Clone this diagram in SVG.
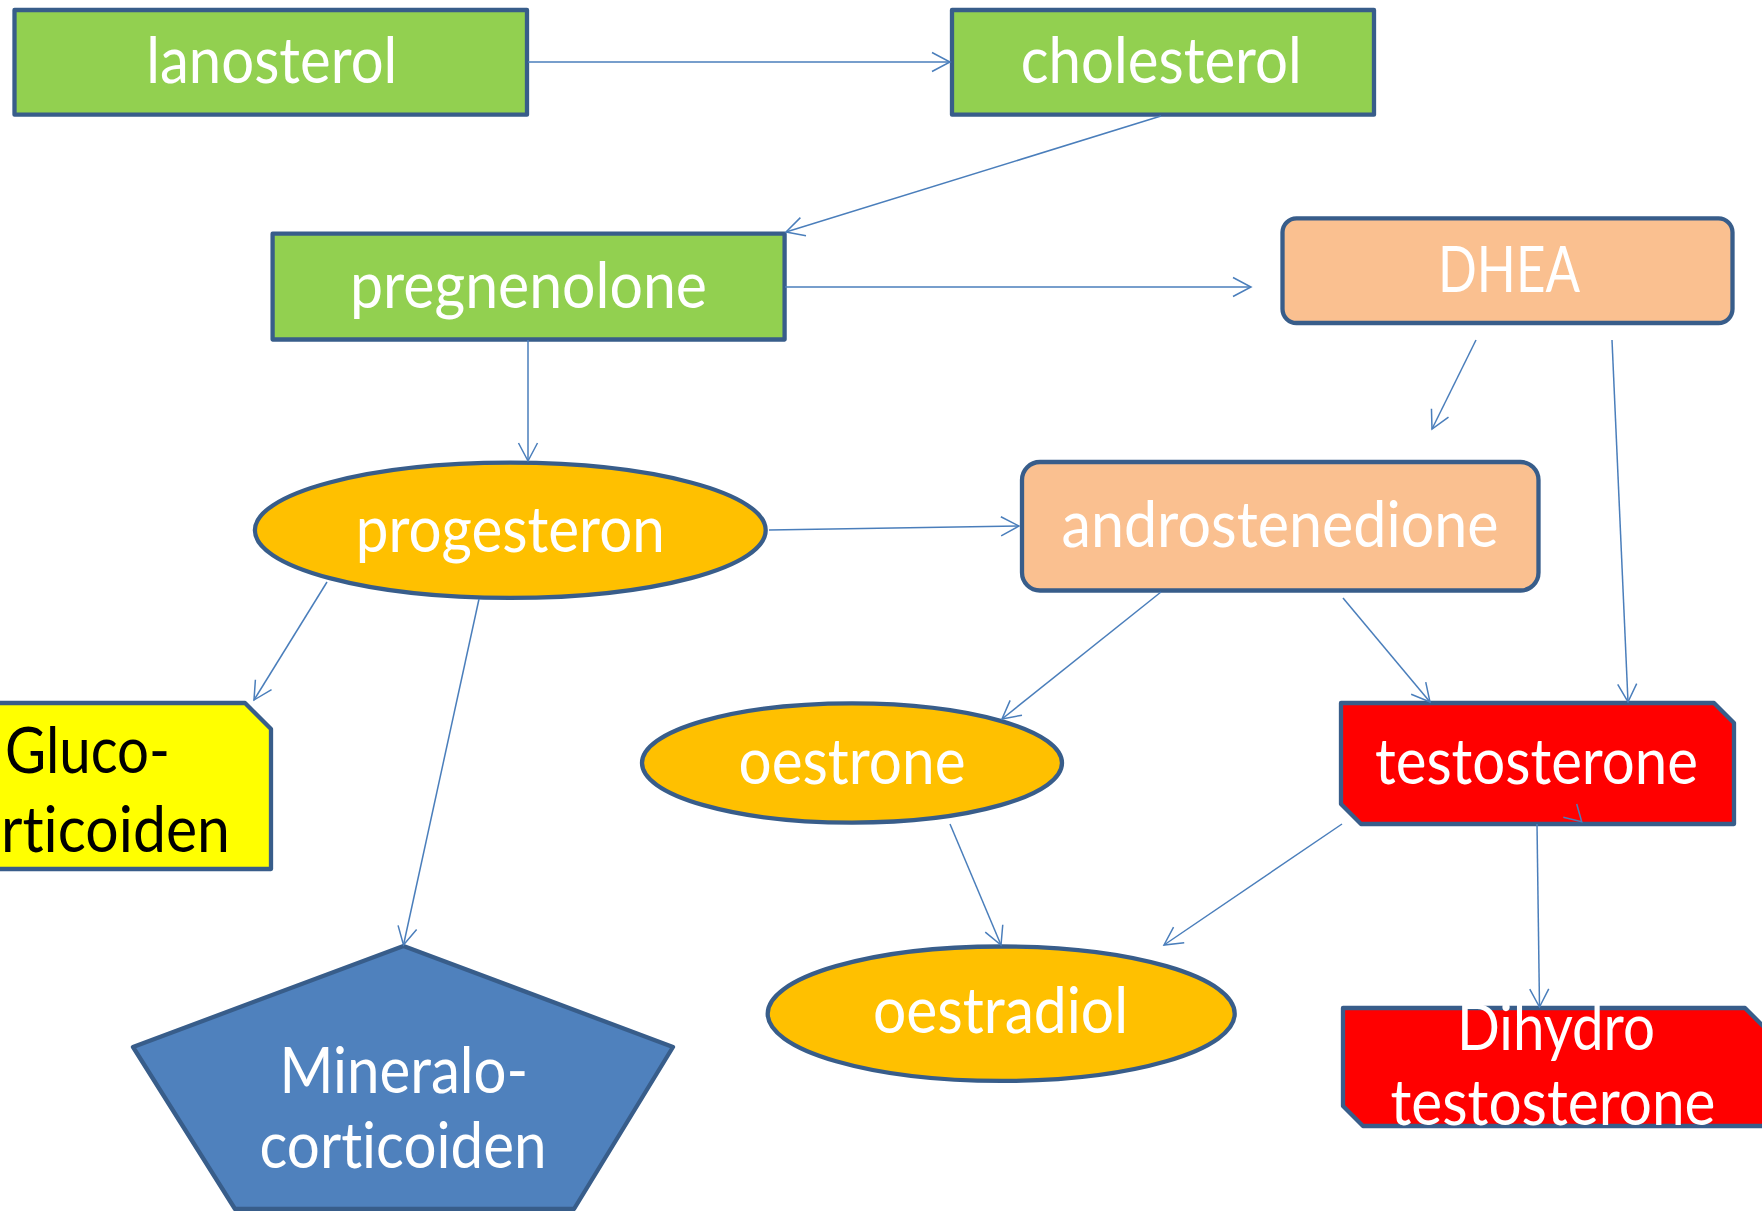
<svg xmlns="http://www.w3.org/2000/svg" width="1762" height="1211" viewBox="0 0 1762 1211">
<style>
.n{stroke:#385D8A;stroke-width:4.3;stroke-linejoin:round}
.green{fill:#92D050}
.peach{fill:#FAC090}
.orange{fill:#FFC000}
.red{fill:#FF0000}
.yellow{fill:#FFFF00}
.blue{fill:#4F81BD}
.t{font-family:Lato,"Open Sans","Liberation Sans",sans-serif;font-size:64px;fill:#FFFFFF;text-anchor:middle;font-variant-ligatures:none;font-feature-settings:"liga" 0}
.k{fill:#000000;text-anchor:start}
.c{fill:none;stroke:#4A7EBB;stroke-width:1.5;marker-end:url(#arr)}
</style>
<defs>
<marker id="arr" viewBox="-2 -12 24 24" refX="18" refY="0" markerWidth="24" markerHeight="24" markerUnits="userSpaceOnUse" orient="auto">
<path d="M0,-9.5 L18,0 L0,9.5" fill="none" stroke="#4A7EBB" stroke-width="1.5"/>
</marker>
</defs>
<rect width="1762" height="1211" fill="#FFFFFF"/>
<g id="lanosterol"><rect class="n green" x="14.5" y="10" width="512.5" height="104.7"/><text class="t" x="271.8" y="83" textLength="251" lengthAdjust="spacingAndGlyphs">lanosterol</text></g>
<g id="cholesterol"><rect class="n green" x="952" y="10" width="422" height="104.7"/><text class="t" x="1161.3" y="83" textLength="281" lengthAdjust="spacingAndGlyphs">cholesterol</text></g>
<g id="pregnenolone"><rect class="n green" x="272.6" y="233.7" width="512" height="105.8"/><text class="t" x="528.5" y="308" textLength="357" lengthAdjust="spacingAndGlyphs">pregnenolone</text></g>
<g id="DHEA"><rect class="n peach" x="1282.5" y="218.3" width="450" height="104.7" rx="14" ry="14"/><text class="t" x="1509" y="291.7" textLength="142" lengthAdjust="spacingAndGlyphs">DHEA</text></g>
<g id="progesteron"><ellipse class="n orange" cx="510.3" cy="530.3" rx="255.4" ry="67.6"/><text class="t" x="510.3" y="551.7" textLength="309" lengthAdjust="spacingAndGlyphs">progesteron</text></g>
<g id="androstenedione"><rect class="n peach" x="1022" y="462" width="516.5" height="128.5" rx="18" ry="18"/><text class="t" x="1280" y="546.7" textLength="437" lengthAdjust="spacingAndGlyphs">androstenedione</text></g>
<g id="glucocorticoiden"><path class="n yellow" d="M-30,703 H245 L271,729 V869 H-30 Z"/><text class="t k" x="5" y="773" textLength="165" lengthAdjust="spacingAndGlyphs">Gluco-</text><text class="t k" x="1" y="851.7" textLength="229" lengthAdjust="spacingAndGlyphs">rticoiden</text></g>
<g id="oestrone"><ellipse class="n orange" cx="852" cy="763" rx="210" ry="59.6"/><text class="t" x="852" y="784.3" textLength="227" lengthAdjust="spacingAndGlyphs">oestrone</text></g>
<g id="testosterone"><path class="n red" d="M1341,703 H1714 L1734,723 V824 H1361 L1341,804 Z"/><text class="t" x="1536.5" y="784" textLength="323" lengthAdjust="spacingAndGlyphs">testosterone</text></g>
<g id="mineralocorticoiden"><polygon class="n blue" points="403.5,946 673,1047 574,1209 235,1209 133,1047"/><text class="t" x="403.8" y="1092.7" textLength="248.6" lengthAdjust="spacingAndGlyphs">Mineralo-</text><text class="t" x="403" y="1168" textLength="287" lengthAdjust="spacingAndGlyphs">corticoiden</text></g>
<g id="oestradiol"><ellipse class="n orange" cx="1001.2" cy="1013.7" rx="233.5" ry="67.2"/><text class="t" x="1000.5" y="1033" textLength="255" lengthAdjust="spacingAndGlyphs">oestradiol</text></g>
<g id="dihydrotestosterone"><path class="n red" d="M1343,1008 H1745 L1765,1028 V1126 H1363 L1343,1106 Z"/><text class="t" x="1556" y="1050" textLength="198" lengthAdjust="spacingAndGlyphs">Dihydro</text><text class="t" x="1553" y="1125" textLength="325" lengthAdjust="spacingAndGlyphs">testosterone</text></g>
<g id="connectors">
<path class="c" d="M528,62 L950,62"/>
<path class="c" d="M1161,116 L786,232"/>
<path class="c" d="M785,287 L1251,287"/>
<path class="c" d="M528,340 L528,461"/>
<path class="c" d="M1476,340 L1432,429"/>
<path class="c" d="M1612,340 L1628,702"/>
<path class="c" d="M769,530 L1019,526"/>
<path class="c" d="M327,582 L254,700"/>
<path class="c" d="M479,599 L403.5,945"/>
<path class="c" d="M1161,592 L1002,719"/>
<path class="c" d="M1343,598 L1430,702"/>
<path class="c" d="M950,824 L1001,945"/>
<path class="c" d="M1342,824 L1164,945"/>
<path class="c" d="M1537,824 L1539.5,1007"/>
<polyline points="1576.7,804 1581.7,821.7 1563.3,817.3" fill="none" stroke="#4A7EBB" stroke-width="1.5"/>
</g>
</svg>
